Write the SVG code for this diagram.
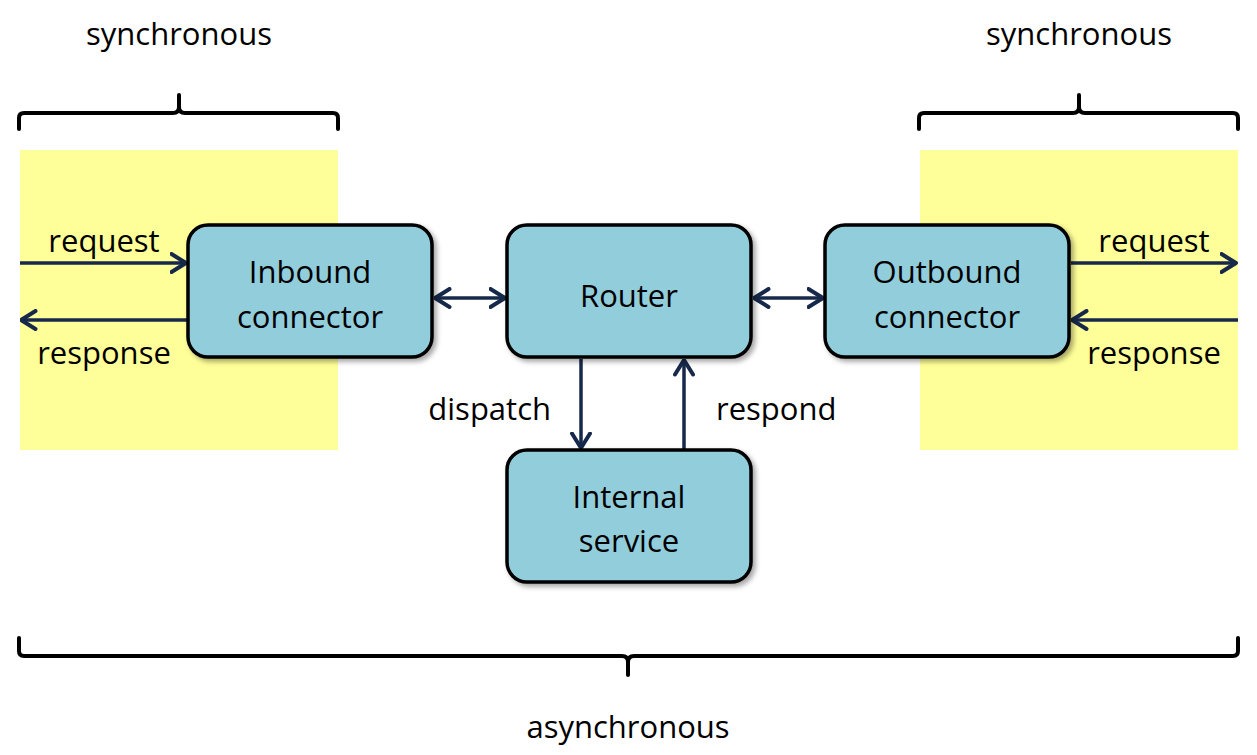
<svg xmlns="http://www.w3.org/2000/svg" width="1257" height="755" viewBox="0 0 1257 755">
<style>
.t{font-family:"Open Sans","Noto Sans",sans-serif;font-size:31px;fill:#000}
.box{fill:#92CDDC;stroke:#000;stroke-width:3.5}
.zone{fill:#FFFF99}
.brace{fill:none;stroke:#000;stroke-width:4;stroke-linejoin:round;stroke-linecap:round}
.c{fill:none;stroke:#17294A;stroke-width:3.5}
</style>
<defs>
<marker id="ah" viewBox="0 0 18 22" refX="16.5" refY="11" markerWidth="18" markerHeight="22" markerUnits="userSpaceOnUse" orient="auto-start-reverse">
<path d="M2,2 L16.5,11 L2,20" fill="none" stroke="#17294A" stroke-width="4" stroke-linecap="round" stroke-linejoin="round"/>
</marker>
<filter id="sh" x="-10%" y="-10%" width="125%" height="130%">
<feDropShadow dx="3" dy="3" stdDeviation="2.5" flood-color="#000" flood-opacity="0.35"/>
</filter>
</defs>
<g id="zones">
<rect class="zone" x="20" y="150" width="318" height="300"/>
<rect class="zone" x="920" y="150" width="318" height="300"/>
</g>
<g id="braces">
<path class="brace" d="M19,129 L19,118 Q19,113 24,113 L173,113 Q179,113 179,107 L179,95 M179,107 Q179,113 185,113 L333,113 Q338,113 338,118 L338,129"/>
<path class="brace" d="M919,129 L919,118 Q919,113 924,113 L1073,113 Q1079,113 1079,107 L1079,95 M1079,107 Q1079,113 1085,113 L1233,113 Q1238,113 1238,118 L1238,129"/>
<path class="brace" d="M19,638 L19,651 Q19,656 24,656 L622,656 Q628,656 628,662 L628,675 M628,662 Q628,656 634,656 L1233,656 Q1238,656 1238,651 L1238,638"/>
</g>
<g id="connectors">
<line class="c" x1="20" y1="263" x2="186" y2="263" marker-end="url(#ah)"/>
<line class="c" x1="188" y1="320" x2="21" y2="320" marker-end="url(#ah)"/>
<line class="c" x1="435" y1="298" x2="505" y2="298" marker-start="url(#ah)" marker-end="url(#ah)"/>
<line class="c" x1="754" y1="298" x2="823" y2="298" marker-start="url(#ah)" marker-end="url(#ah)"/>
<line class="c" x1="581" y1="359" x2="581" y2="448" marker-end="url(#ah)"/>
<line class="c" x1="684" y1="449" x2="684" y2="360" marker-end="url(#ah)"/>
<line class="c" x1="1071" y1="263" x2="1236" y2="263" marker-end="url(#ah)"/>
<line class="c" x1="1238" y1="320" x2="1072" y2="320" marker-end="url(#ah)"/>
</g>
<g id="inbound">
<rect class="box" x="188" y="225" width="244" height="132" rx="20" filter="url(#sh)"/>
<text class="t" x="310" y="283" text-anchor="middle">Inbound</text>
<text class="t" x="310" y="328" text-anchor="middle">connector</text>
</g>
<g id="router">
<rect class="box" x="507" y="225" width="244" height="132" rx="20" filter="url(#sh)"/>
<text class="t" x="629" y="307" text-anchor="middle">Router</text>
</g>
<g id="outbound">
<rect class="box" x="825" y="225" width="244" height="132" rx="20" filter="url(#sh)"/>
<text class="t" x="947" y="283" text-anchor="middle">Outbound</text>
<text class="t" x="947" y="328" text-anchor="middle">connector</text>
</g>
<g id="internal">
<rect class="box" x="507" y="450" width="244" height="132" rx="20" filter="url(#sh)"/>
<text class="t" x="629" y="508" text-anchor="middle">Internal</text>
<text class="t" x="629" y="552" text-anchor="middle">service</text>
</g>
<g id="labels">
<text class="t" x="179" y="45" text-anchor="middle">synchronous</text>
<text class="t" x="1079" y="45" text-anchor="middle">synchronous</text>
<text class="t" x="628" y="738" text-anchor="middle">asynchronous</text>
<text class="t" x="104" y="252" text-anchor="middle">request</text>
<text class="t" x="104" y="364" text-anchor="middle">response</text>
<text class="t" x="1154" y="252" text-anchor="middle">request</text>
<text class="t" x="1154" y="364" text-anchor="middle">response</text>
<text class="t" x="551" y="420" text-anchor="end">dispatch</text>
<text class="t" x="716" y="420">respond</text>
</g>
</svg>
